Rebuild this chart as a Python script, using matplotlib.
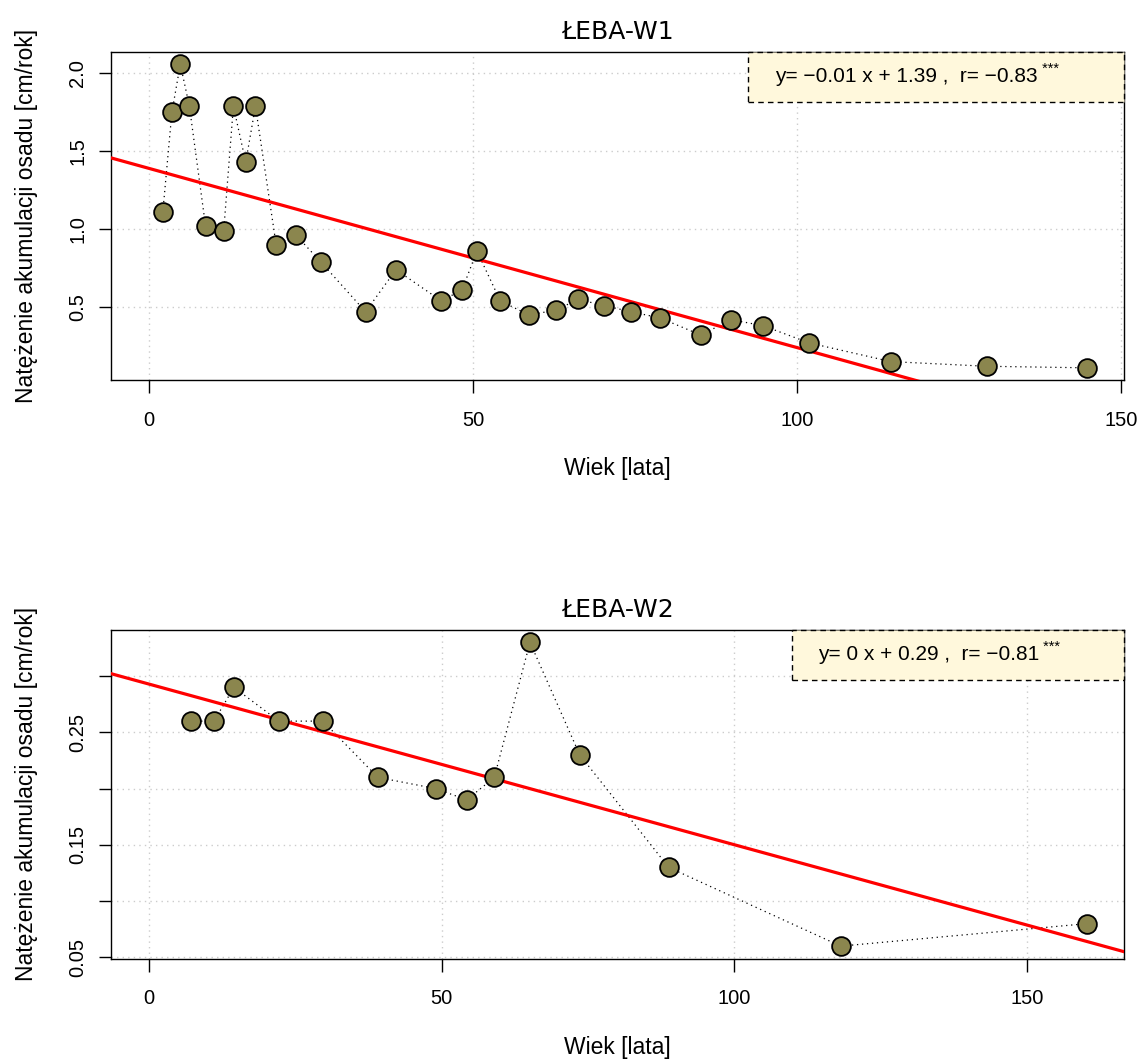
import numpy as np
import matplotlib
matplotlib.use("Agg")
import matplotlib.pyplot as plt
from matplotlib.patches import Rectangle

# --- data ---------------------------------------------------------------
w1_age = [2.1, 3.5, 4.8, 6.2, 8.7, 11.5, 13.0, 14.9, 16.4, 19.6, 22.7, 26.5,
          33.4, 38.1, 45.1, 48.3, 50.6, 54.2, 58.6, 62.8, 66.2, 70.2, 74.4,
          78.9, 85.2, 89.8, 94.8, 101.9, 114.5, 129.3, 144.8]
w1_rate = [1.11, 1.75, 2.06, 1.79, 1.02, 0.99, 1.79, 1.43, 1.79, 0.90, 0.96,
           0.79, 0.47, 0.74, 0.54, 0.61, 0.86, 0.54, 0.45, 0.48, 0.55, 0.51,
           0.47, 0.43, 0.32, 0.42, 0.38, 0.27, 0.15, 0.12, 0.11]
w1_label = "y= \u22120.01 x + 1.39 ,  r= \u22120.83"

w2_age = [7.2, 11.1, 14.5, 22.2, 29.7, 39.1, 49.0, 54.3, 59.0, 65.1, 73.6,
          88.8, 118.2, 160.3]
w2_rate = [0.26, 0.26, 0.29, 0.26, 0.26, 0.21, 0.20, 0.19, 0.21, 0.33, 0.23,
           0.13, 0.06, 0.08]
w2_label = "y= 0 x + 0.29 ,  r= \u22120.81"

W, H = 1142, 1059
fig = plt.figure(figsize=(W / 100, H / 100), dpi=100)
plt.rcParams["font.family"] = ["Liberation Sans", "DejaVu Sans"]

pt_fill = "#8B864E"   # khaki4
box_fill = "#FFF8DC"  # cornsilk


def panel(rect, age, rate, title, label, xlim, ylim, yticks, ylabels, box_x, txt_x):
    ax = fig.add_axes(rect)
    ax.set_xlim(*xlim)
    ax.set_ylim(*ylim)
    ax.set_xticks([0, 50, 100, 150])
    ax.set_yticks(yticks)
    ax.set_yticklabels(ylabels, rotation=90, va="center")
    ax.tick_params(direction="out", length=9, width=1, labelsize=14.5,
                   colors="black")
    ax.tick_params(axis="x", pad=13)
    ax.tick_params(axis="y", pad=8)
    for s in ax.spines.values():
        s.set_linewidth(1.0)
    ax.grid(True, color="#cccccc", linestyle=(0, (1, 3)), linewidth=1.0)
    ax.set_axisbelow(True)

    # least-squares fit line
    b, a = np.polyfit(age, rate, 1)
    xs = np.array(xlim)
    ax.plot(xs, a + b * xs, color="red", lw=2.3, zorder=3)

    ax.plot(age, rate, color="black", ls=(0, (1, 3)), lw=0.9, zorder=2)
    ax.plot(age, rate, ls="none", marker="o", ms=13.5, mfc=pt_fill,
            mec="black", mew=1.3, zorder=4)

    ax.set_title(title, fontsize=18, family="DejaVu Sans", pad=9)
    ax.set_xlabel("Wiek [lata]", fontsize=16.5, labelpad=20)
    ax.set_ylabel("Nat\u0119\u017cenie akumulacji osadu [cm/rok]",
                  fontsize=16.5, labelpad=22)

    ax.add_patch(Rectangle((box_x, 0.847), 1 - box_x, 0.153,
                           transform=ax.transAxes, facecolor=box_fill,
                           edgecolor="black", lw=1.0, ls=(0, (4, 3)),
                           zorder=5, clip_on=False))
    t = ax.text(txt_x, 0.924, label, transform=ax.transAxes, fontsize=15,
                va="center", ha="left", zorder=6)
    ax.annotate(" ***", xy=(1, 0.55), xycoords=t, fontsize=10.5,
                va="bottom", ha="left", zorder=6)
    return ax


panel([0.0972, 0.6412, 0.887, 0.3097], w1_age, w1_rate, "\u0141EBA-W1",
      w1_label, (-5.9, 150.5), (0.032, 2.138), [0.5, 1.0, 1.5, 2.0],
      ["0.5", "1.0", "1.5", "2.0"], 0.629, 0.6555)

panel([0.0972, 0.0949, 0.887, 0.3102], w2_age, w2_rate, "\u0141EBA-W2",
      w2_label, (-6.5, 166.6), (0.049, 0.341),
      [0.05, 0.10, 0.15, 0.20, 0.25, 0.30],
      ["0.05", "", "0.15", "", "0.25", ""], 0.672, 0.698)

fig.savefig("out.png", dpi=100)
